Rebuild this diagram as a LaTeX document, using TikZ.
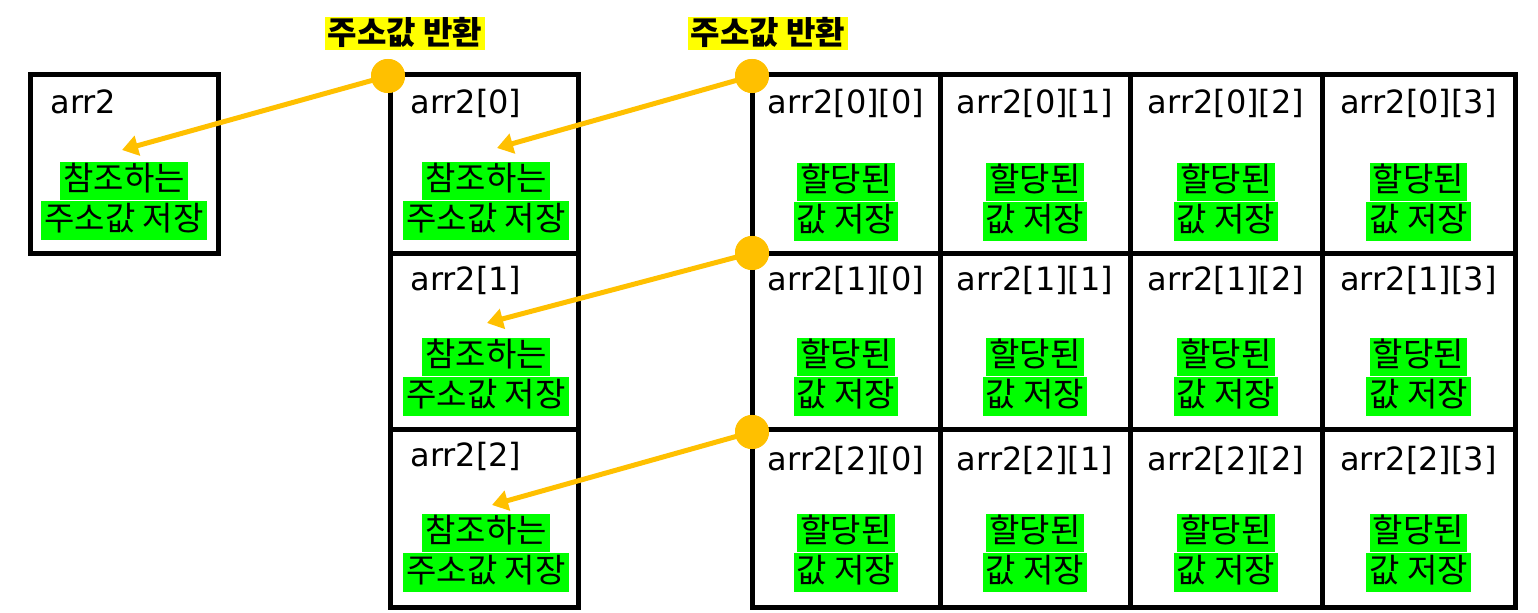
\documentclass[tikz,border=0pt]{standalone}
\usepackage{fontspec}
\newfontfamily\kr{Noto Sans CJK KR}
\newfontfamily\lat{DejaVu Sans}
\usetikzlibrary{arrows.meta}
\definecolor{hlgreen}{HTML}{00FF00}
\definecolor{hlyellow}{HTML}{FFFF00}
\definecolor{dotc}{HTML}{FFC000}
\begin{document}
\begin{tikzpicture}[x=0.5pt,y=-0.5pt,
  cell/.style={draw,line width=2.5pt,inner sep=0pt},
  lbl/.style={font=\lat\fontsize{16pt}{18pt}\selectfont,inner sep=0pt,anchor=base},
  hl/.style={fill=hlgreen,font=\kr\fontsize{16.5pt}{19pt}\selectfont,inner xsep=1.5pt,inner ysep=0.5pt,text height=14pt,text depth=4.3pt},
  tag/.style={fill=hlyellow,font=\kr\bfseries\fontsize{16pt}{18pt}\selectfont,inner xsep=1.5pt,inner ysep=0.5pt,text height=13pt,text depth=2.5pt},
  dot/.style={circle,fill=dotc,inner sep=0pt,minimum size=17pt},
  arr/.style={draw=dotc,line width=2.5pt,-{Triangle[length=8pt,width=10pt]}}]
\useasboundingbox (0,0) rectangle (1538,613);
% arr2 box
\node[cell,minimum width=94pt,minimum height=89.5pt] (a) at (124,164.5) {};
\node[lbl,anchor=base west] (al) at (50,114) {arr2};
\node[hl] (aa) at (124,181) {참조하는};
\node[hl,anchor=north] (ab) at (aa.south) {주소값 저장};
% middle column
\foreach \r/\cy/\ch/\by/\ky in {0/164.5/89.5/114/181, 1/342/88/291/357, 2/519/89/467/533} {
  \node[cell,minimum width=94pt,minimum height=\ch pt] (m\r) at (484,\cy) {};
  \node[lbl,anchor=base west] (ml\r) at (410,\by) {arr2[\r]};
  \node[hl] (ma\r) at (486,\ky) {참조하는};
  \node[hl,anchor=north] (mb\r) at (ma\r.south) {주소값 저장};
}
% grid
\foreach \r/\cy/\ch/\by/\ky in {0/164.5/89.5/114/182, 1/342/88/291/357, 2/519/89/471/533} {
  \foreach \c/\cx/\cw in {0/846/94,1/1035/95,2/1226/96,3/1418.5/96.5} {
    \node[cell,minimum width=\cw pt,minimum height=\ch pt] (g\r\c) at (\cx,\cy) {};
    \node[lbl] (gl\r\c) at (\cx,\by) {arr2[\r][\c]};
    \node[hl] (ga\r\c) at (\cx,\ky) {할당된};
    \node[hl,anchor=north] (gb\r\c) at (ga\r\c.south) {값 저장};
  }
}
% tags
\node[tag] (t1) at (405,34) {주소값 반환};
\node[tag] (t2) at (768,34) {주소값 반환};
% dots
\node[dot] (d1) at (388,76) {};
\node[dot] (d2) at (752,76) {};
\node[dot] (d3) at (752,253) {};
\node[dot] (d4) at (752,432) {};
\coordinate (e1) at (122,150);
\coordinate (e2) at (497,148);
\coordinate (e3) at (487,323);
\coordinate (e4) at (492,505);
\draw[arr] (d1.center) -- (e1);
\draw[arr] (d2.center) -- (e2);
\draw[arr] (d3.center) -- (e3);
\draw[arr] (d4.center) -- (e4);
\node[dot] at (d1) {};
\node[dot] at (d2) {};
\node[dot] at (d3) {};
\node[dot] at (d4) {};
\end{tikzpicture}
\end{document}
